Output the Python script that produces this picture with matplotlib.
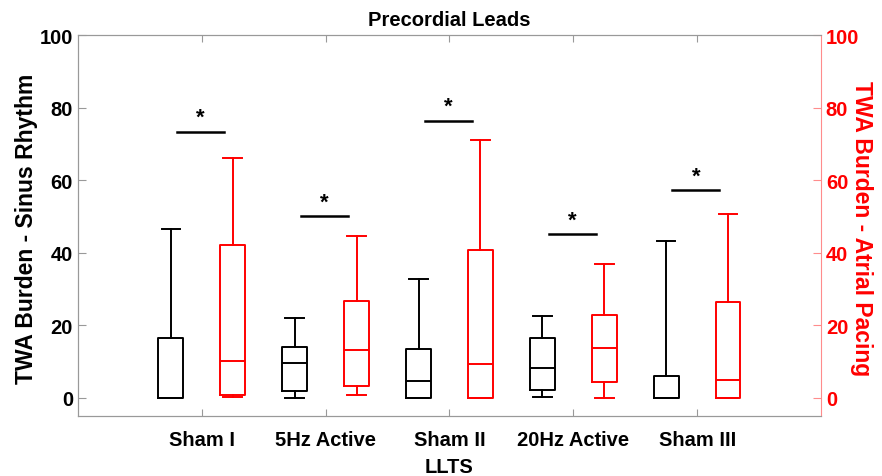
import matplotlib
matplotlib.use('Agg')
import matplotlib.pyplot as plt

plt.rcParams['font.family'] = ['Liberation Sans', 'DejaVu Sans']
plt.rcParams['font.weight'] = 'bold'

groups = ['Sham I', '5Hz Active', 'Sham II', '20Hz Active', 'Sham III']

# sinus rhythm (black, left axis)
sr_lo = [0.0, 0.0, 0.0, 0.2, 0.0]
sr_q1 = [0.0, 1.8, 0.0, 2.3, 0.0]
sr_med = [0.0, 9.6, 4.7, 8.2, 0.0]
sr_q3 = [16.5, 14.0, 13.5, 16.5, 6.0]
sr_hi = [46.6, 22.0, 32.8, 22.5, 43.3]

# atrial pacing (red, right axis)
ap_lo = [0.2, 0.9, 0.0, 0.0, 0.0]
ap_q1 = [0.8, 3.4, 0.0, 4.5, 0.0]
ap_med = [10.1, 13.3, 9.4, 13.8, 4.8]
ap_q3 = [42.2, 26.6, 40.8, 22.9, 26.4]
ap_hi = [66.2, 44.6, 71.1, 37.0, 50.6]

# significance bars
sig_y = [73.4, 50.0, 76.4, 45.1, 57.3]

RED = '#ff0000'


def make_stats(lo, q1, med, q3, hi):
    out = []
    for i in range(len(lo)):
        out.append(dict(whislo=lo[i], q1=q1[i], med=med[i], q3=q3[i],
                        whishi=hi[i], fliers=[]))
    return out


def draw(ax, stats, pos, col):
    ax.bxp(stats, positions=pos, widths=0.2, showfliers=False,
           manage_ticks=False,
           boxprops=dict(color=col, linewidth=1.4),
           medianprops=dict(color=col, linewidth=1.4),
           whiskerprops=dict(color=col, linewidth=1.4, linestyle='-'),
           capprops=dict(color=col, linewidth=1.4),
           capwidths=0.15)


fig = plt.figure(figsize=(8.82, 4.77), dpi=100)
ax1 = fig.add_axes([0.0884, 0.1258, 0.8424, 0.7987])
ax2 = ax1.twinx()

x = list(range(1, len(groups) + 1))
draw(ax1, make_stats(sr_lo, sr_q1, sr_med, sr_q3, sr_hi), [p - 0.25 for p in x], 'black')
draw(ax2, make_stats(ap_lo, ap_q1, ap_med, ap_q3, ap_hi), [p + 0.25 for p in x], RED)

for p, y in zip(x, sig_y):
    ax1.plot([p - 0.2, p + 0.18], [y, y], color='black', linewidth=1.8)
    ax1.text(p - 0.01, y + 1.0, '*', ha='center', va='bottom', fontsize=16,
             fontweight='bold')

for ax in (ax1, ax2):
    ax.set_ylim(-5, 100)
    ax.set_xlim(0, 6)
    ax.set_yticks([0, 20, 40, 60, 80, 100])

ax1.set_xticks(x)
ax1.set_xticklabels(groups, fontsize=14.5, fontweight='bold')
ax1.tick_params(axis='x', direction='in', top=True, length=5, color='#999999', pad=10)
ax1.tick_params(axis='y', direction='in', length=6, color='#999999', labelsize=14.5)
ax2.tick_params(axis='y', direction='in', length=6, color='#ff8c8c',
                labelcolor=RED, labelsize=14.5)
for lab in ax1.get_yticklabels() + ax2.get_yticklabels():
    lab.set_fontweight('bold')

for s in ['left', 'bottom', 'top']:
    ax2.spines[s].set_color('#999999')
ax2.spines['right'].set_color('#ff8c8c')
for s in ax1.spines.values():
    s.set_color('#999999')
ax1.spines['right'].set_visible(False)

ax1.set_xlabel('LLTS', fontsize=14.5, fontweight='bold', labelpad=6)
ax1.set_ylabel('TWA Burden - Sinus Rhythm', fontsize=16.5, fontweight='bold',
               va='center', ha='center', rotation_mode='anchor')
ax1.yaxis.set_label_coords(-0.069, 0.495)
ax2.set_ylabel('TWA Burden - Atrial Pacing', fontsize=16.5, fontweight='bold',
               color=RED, rotation=270, va='center', ha='center', rotation_mode='anchor')
ax2.yaxis.set_label_coords(1.055, 0.495)
ax1.set_title('Precordial Leads', fontsize=14.5, fontweight='bold', pad=7)

fig.savefig('out.png', dpi=100)
